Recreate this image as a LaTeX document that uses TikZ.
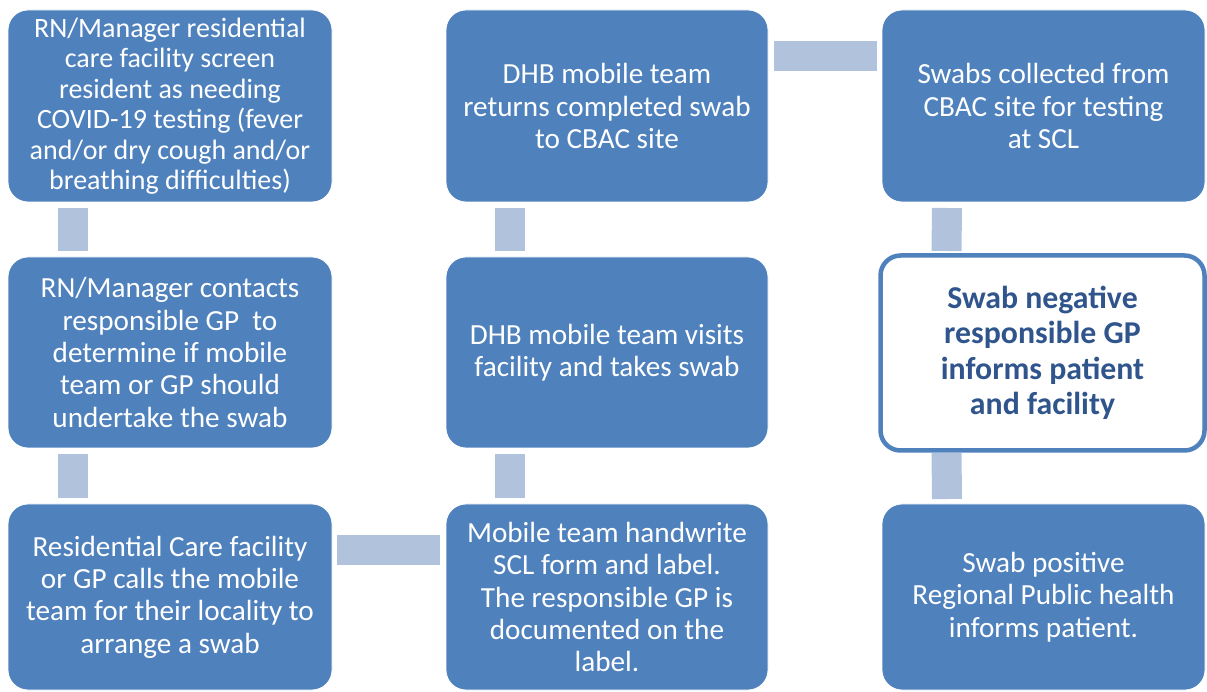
\documentclass[tikz,border=0pt]{standalone}
\usepackage{fontspec}
\setmainfont{Carlito}
\definecolor{boxblue}{RGB}{79,129,189}
\definecolor{connblue}{RGB}{177,194,220}
\definecolor{darkblue}{RGB}{47,85,140}
\tikzset{
  box/.style={rectangle, rounded corners=20pt, fill=boxblue, draw=white, line width=0.8pt,
    text=white, align=center, inner sep=0pt, outer sep=0pt,
    font=\fontsize{29.2pt}{32.4pt}\selectfont},
  negbox/.style={rectangle, rounded corners=20pt, fill=white, draw=boxblue, line width=4.5pt,
    text=darkblue, align=center, inner sep=0pt, outer sep=0pt,
    font=\fontsize{31.8pt}{35.5pt}\selectfont\bfseries},
  conn/.style={draw=connblue, line width=30pt}
}
\begin{document}
\begin{tikzpicture}[x=1pt,y=1pt]
\useasboundingbox (0,0) rectangle (1207,691);
% column 1
\node[box, minimum width=324pt, minimum height=192pt, font=\fontsize{28pt}{30.5pt}\selectfont] (a1) at (170,585)
  {RN/Manager residential\\care facility screen\\resident as needing\\COVID-19 testing (fever\\and/or dry cough and/or\\breathing difficulties)};
\node[box, minimum width=324pt, minimum height=191pt] (a2) at (170,338.5)
  {RN/Manager contacts\\responsible GP\ \ to\\determine if mobile\\team or GP should\\undertake the swab};
\node[box, minimum width=324pt, minimum height=186pt] (a3) at (170,94)
  {Residential Care facility\\or GP calls the mobile\\team for their locality to\\arrange a swab};
% column 2
\node[box, minimum width=322pt, minimum height=192pt] (b1) at (607,585)
  {DHB mobile team\\returns completed swab\\to CBAC site};
\node[box, minimum width=322pt, minimum height=191pt] (b2) at (607,338.5)
  {DHB mobile team visits\\facility and takes swab};
\node[box, minimum width=322pt, minimum height=186pt] (b3) at (607,94)
  {Mobile team handwrite\\SCL form and label.\\The responsible GP is\\documented on the\\label.};
% column 3
\node[box, minimum width=323pt, minimum height=192pt] (c1) at (1043.5,585)
  {Swabs collected from\\CBAC site for testing\\at SCL};
\node[negbox, minimum width=324pt, minimum height=195pt] (c2) at (1042.5,338)
  {Swab negative\\responsible GP\\informs patient\\and facility};
\node[box, minimum width=323pt, minimum height=186pt] (c3) at (1043.5,94)
  {Swab positive\\Regional Public health\\informs patient.};
% connectors
\draw[conn] ([xshift=65pt,yshift=-6pt]a1.south west) -- ([xshift=65pt,yshift=6pt]a2.north west);
\draw[conn] ([xshift=65pt,yshift=-6pt]a2.south west) -- ([xshift=65pt,yshift=6pt]a3.north west);
\draw[conn] ([xshift=5pt,yshift=-46pt]a3.north east) -- ([xshift=-6pt,yshift=-46pt]b3.north west);
\draw[conn] ([xshift=64pt,yshift=6pt]b3.north west) -- ([xshift=64pt,yshift=-6pt]b2.south west);
\draw[conn] ([xshift=64pt,yshift=6pt]b2.north west) -- ([xshift=64pt,yshift=-6pt]b1.south west);
\draw[conn] ([xshift=6pt,yshift=-46.5pt]b1.north east) -- ([xshift=-5pt,yshift=-46.5pt]c1.north west);
\draw[conn] ([xshift=65pt,yshift=-6pt]c1.south west) -- ([xshift=66pt,yshift=4.5pt]c2.north west);
\draw[conn] ([xshift=66pt,yshift=-2.5pt]c2.south west) -- ([xshift=65pt,yshift=5pt]c3.north west);
\end{tikzpicture}
\end{document}
